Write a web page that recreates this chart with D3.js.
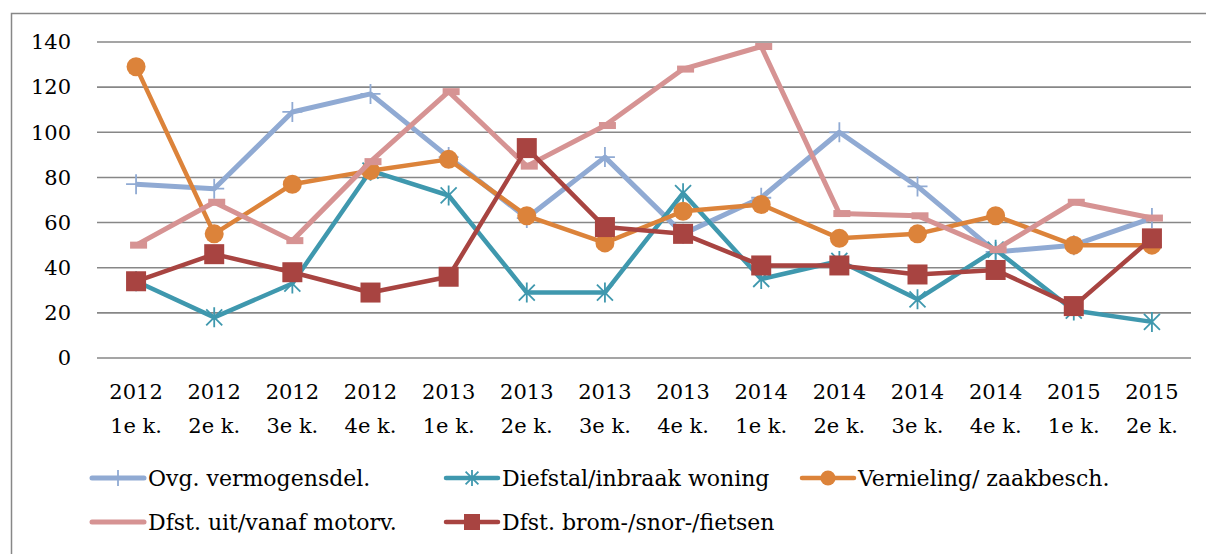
<!DOCTYPE html>
<html>
<head>
<meta charset="utf-8">
<script src="https://cdn.jsdelivr.net/npm/d3@7"></script>
<style>
    html, body { margin: 0; padding: 0; background: #fff; }
    svg { display: block; }
</style>
</head>
<body>
<svg id="chart" width="1206" height="554"></svg>
<script>
const years = ['2012', '2012', '2012', '2012', '2013', '2013', '2013', '2013', '2014', '2014', '2014', '2014', '2015', '2015'];
const quarters = ['1e k.', '2e k.', '3e k.', '4e k.', '1e k.', '2e k.', '3e k.', '4e k.', '1e k.', '2e k.', '3e k.', '4e k.', '1e k.', '2e k.'];
const yTicks = [0, 20, 40, 60, 80, 100, 120, 140];

const ovgVermogensdel = [77, 75, 109, 117, 89, 62, 89, 55, 71, 100, 76, 47, 50, 62];
const diefstalWoning = [34, 18, 33, 83, 72, 29, 29, 73, 35, 43, 26, 48, 21, 16];
const vernieling = [129, 55, 77, 83, 88, 63, 51, 65, 68, 53, 55, 63, 50, 50];
const dfstMotorv = [50, 69, 52, 87, 118, 85, 103, 128, 138, 64, 63, 48, 69, 62];
const dfstFietsen = [34, 46, 38, 29, 36, 93, 58, 55, 41, 41, 37, 39, 23, 53];

const seriesNames = ['Ovg. vermogensdel.', 'Diefstal/inbraak woning', 'Vernieling/ zaakbesch.',
    'Dfst. uit/vanaf motorv.', 'Dfst. brom-/snor-/fietsen'];
const seriesValues = [ovgVermogensdel, diefstalWoning, vernieling, dfstMotorv, dfstFietsen];
const seriesColors = ['#90aad3', '#3f98ae', '#dc833a', '#d69393', '#a84441'];
const seriesMarkers = ['plus', 'star', 'circle', 'dash', 'square'];
const seriesWidths = [5, 4.5, 4.5, 5, 4.5];

const font = '"DejaVu Serif", serif';

const svg = d3.select('#chart');

const margin = {left: 97, top: 42};
const plotW = 1094, plotH = 316;

// outer frame, right and bottom edge fall outside the picture
svg.append('rect')
    .attr('x', 11.5)
    .attr('y', 13.5)
    .attr('width', 1220)
    .attr('height', 560)
    .attr('fill', 'none')
    .attr('stroke', '#878787')
    .attr('stroke-width', 1.5);

const g = svg.append('g')
    .attr('transform', 'translate(' + margin.left + ',' + margin.top + ')');

const x = d3.scaleBand()
    .domain(d3.range(years.length))
    .range([0, plotW]);

const y = d3.scaleLinear()
    .domain([0, 140])
    .range([plotH, 0]);

const cx = i => x(i) + x.bandwidth() / 2;

// gridlines
g.append('g')
    .selectAll('line')
    .data(yTicks)
    .join('line')
    .attr('x1', 0)
    .attr('x2', plotW)
    .attr('y1', d => y(d))
    .attr('y2', d => y(d))
    .attr('stroke', '#878787')
    .attr('stroke-width', 1.6);

// y axis labels
const yAxis = g.append('g')
    .call(d3.axisLeft(y).tickValues(yTicks).tickSize(0).tickPadding(26))
    .attr('font-family', font)
    .attr('font-size', 21);
yAxis.select('.domain').remove();
yAxis.selectAll('text').attr('fill', '#000');

// x axis labels, two lines
const xAxis = g.append('g')
    .attr('transform', 'translate(0,' + plotH + ')')
    .call(d3.axisBottom(x).tickSize(0).tickFormat(''))
    .attr('font-family', font)
    .attr('font-size', 21);
xAxis.select('.domain').remove();
xAxis.selectAll('.tick').each(function(d) {
    const t = d3.select(this).append('text')
        .attr('text-anchor', 'middle')
        .attr('fill', '#000');
    t.append('tspan').attr('x', 0).attr('y', 41).text(years[d]);
    t.append('tspan').attr('x', 0).attr('y', 75).text(quarters[d]);
});

function drawMarker(sel, type, color, s) {
    if (type === 'plus') {
        sel.append('path')
            .attr('d', 'M' + (-s) + ',0H' + s + 'M0,' + (-s) + 'V' + s)
            .attr('stroke', color)
            .attr('stroke-width', 1.8);
    } else if (type === 'star') {
        const k = s * 0.8;
        sel.append('path')
            .attr('d', 'M' + (-k) + ',' + (-k) + 'L' + k + ',' + k +
                'M' + k + ',' + (-k) + 'L' + (-k) + ',' + k +
                'M0,' + (-s) + 'V' + s)
            .attr('stroke', color)
            .attr('stroke-width', 1.8);
    } else if (type === 'circle') {
        sel.append('circle')
            .attr('r', s * 0.95)
            .attr('fill', color);
    } else if (type === 'square') {
        sel.append('rect')
            .attr('x', -s)
            .attr('y', -s)
            .attr('width', 2 * s)
            .attr('height', 2 * s)
            .attr('fill', color);
    } else if (type === 'dash') {
        sel.append('rect')
            .attr('x', -s * 0.6)
            .attr('y', -3.5)
            .attr('width', s * 1.7)
            .attr('height', 7)
            .attr('fill', color);
    }
}

const line = d3.line()
    .x((d, i) => cx(i))
    .y(d => y(d));

seriesValues.forEach(function(values, k) {
    const sg = g.append('g').attr('class', 'series');
    sg.append('path')
        .datum(values)
        .attr('d', line)
        .attr('fill', 'none')
        .attr('stroke', seriesColors[k])
        .attr('stroke-width', seriesWidths[k])
        .attr('stroke-linejoin', 'round');
    sg.selectAll('g.marker')
        .data(values)
        .join('g')
        .attr('class', 'marker')
        .attr('transform', (d, i) => 'translate(' + cx(i) + ',' + y(d) + ')')
        .each(function() {
            drawMarker(d3.select(this), seriesMarkers[k], seriesColors[k], 10);
        });
});

// legend
const legendPos = [[90, 478], [444, 478], [800, 478], [90, 522], [444, 522]];
const legend = svg.append('g')
    .attr('font-family', font)
    .attr('font-size', 22);
seriesNames.forEach(function(name, k) {
    const lg = legend.append('g')
        .attr('transform', 'translate(' + legendPos[k][0] + ',' + legendPos[k][1] + ')');
    lg.append('line')
        .attr('x1', 2)
        .attr('x2', 54)
        .attr('stroke', seriesColors[k])
        .attr('stroke-width', seriesWidths[k])
        .attr('stroke-linecap', 'round');
    const m = lg.append('g').attr('transform', 'translate(28,0)');
    if (seriesMarkers[k] !== 'dash') drawMarker(m, seriesMarkers[k], seriesColors[k], 8);
    lg.append('text')
        .attr('x', 58)
        .attr('y', 8)
        .text(name);
});
</script>
</body>
</html>
